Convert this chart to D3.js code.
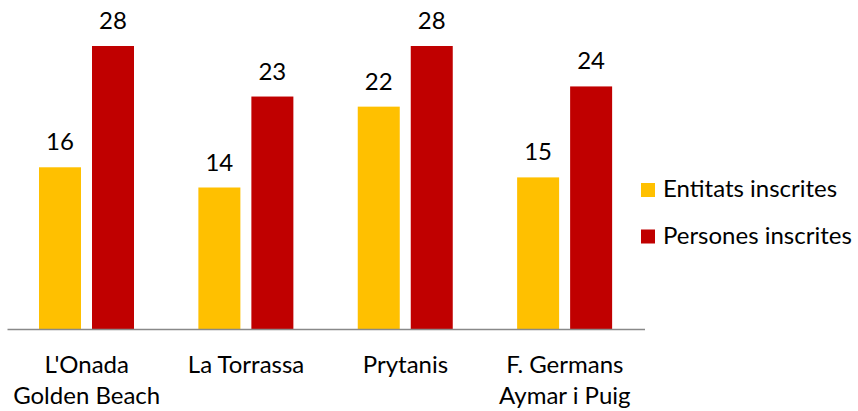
<!DOCTYPE html>
<html>
<head>
<meta charset="utf-8">
<script src="https://cdn.jsdelivr.net/npm/d3@7"></script>
<style>
  body { margin: 0; background: #fff; }
  svg { display: block; font-family: Lato, "Open Sans", sans-serif; }
</style>
</head>
<body>
<svg id="chart"></svg>
<script>
const categories = [["L'Onada", "Golden Beach"], ["La Torrassa"], ["Prytanis"], ["F. Germans", "Aymar i Puig"]];
const seriesNames = ["Entitats inscrites", "Persones inscrites"];
const entitats = [16, 14, 22, 15];
const persones = [28, 23, 28, 24];
const colors = ["#FFC000", "#C00000"];

const width = 858, height = 411;
const svg = d3.select("#chart").attr("width", width).attr("height", height);

const data = categories.map((c, i) => ({ key: i, label: c, values: [entitats[i], persones[i]] }));

const x0 = d3.scaleBand().domain(data.map(d => d.key)).range([7, 644.5]).padding(0);
const x1 = d3.scaleBand().domain([0, 1]).range([32, 127]).paddingInner(11 / 53).paddingOuter(0);
const y = d3.scaleLinear().domain([0, 28]).range([329, 46]);

const groups = svg.selectAll(".grp").data(data).join("g")
    .attr("class", "grp")
    .attr("transform", d => `translate(${x0(d.key)},0)`);

groups.selectAll("rect").data(d => d.values.map((v, j) => ({ v, j }))).join("rect")
    .attr("x", d => x1(d.j))
    .attr("width", x1.bandwidth())
    .attr("y", d => y(d.v))
    .attr("height", d => y(0) - y(d.v))
    .attr("fill", d => colors[d.j]);

groups.selectAll(".val").data(d => d.values.map((v, j) => ({ v, j }))).join("text")
    .attr("class", "val")
    .attr("x", d => x1(d.j) + x1.bandwidth() / 2)
    .attr("y", d => y(d.v) - 17)
    .attr("text-anchor", "middle")
    .attr("font-size", 24)
    .attr("fill", "#000")
    .text(d => d.v);

// axis line
const xAxis = svg.append("g").attr("transform", `translate(0,${y(0)})`)
    .call(d3.axisBottom(x0).tickSize(0).tickFormat(""));
xAxis.select(".domain").attr("stroke", "#898989").attr("stroke-width", 1.5);

// category labels
groups.append("text")
    .attr("x", x0.bandwidth() / 2)
    .attr("y", 373)
    .attr("text-anchor", "middle")
    .attr("font-size", 24)
    .attr("fill", "#000")
    .selectAll("tspan").data(d => d.label).join("tspan")
    .attr("x", x0.bandwidth() / 2)
    .attr("dy", (d, i) => i === 0 ? 0 : 31)
    .text(d => d);

// legend
const legend = svg.selectAll(".leg").data(seriesNames).join("g")
    .attr("class", "leg")
    .attr("transform", (d, i) => `translate(641,${183 + i * 46.5})`);
legend.append("rect").attr("width", 14).attr("height", 14).attr("fill", (d, i) => colors[i]);
legend.append("text").attr("x", 22).attr("y", 14).attr("font-size", 24).attr("fill", "#000").text(d => d);
</script>
</body>
</html>
